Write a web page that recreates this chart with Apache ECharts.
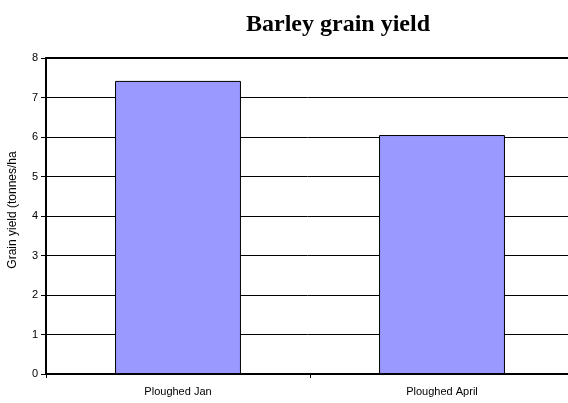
<!DOCTYPE html>
<html><head><meta charset="utf-8">
<script src="https://cdn.jsdelivr.net/npm/echarts@6/dist/echarts.min.js"></script>
<style>html,body{margin:0;padding:0;background:#fff}#c{width:568px;height:403px}</style>
</head><body><div id="c"></div>
<script>
var categories = ['Ploughed Jan', 'Ploughed April'];
var yieldValues = [7.42, 6.05];
var yTicks = [0, 1, 2, 3, 4, 5, 6, 7, 8];

var chart = echarts.init(document.getElementById('c'), null, {renderer: 'canvas'});
chart.setOption({
  animation: false,
  backgroundColor: '#fff',
  title: {
    text: 'Barley grain yield',
    left: 333, top: 8, textAlign: 'center',
    textStyle: {fontFamily: 'Liberation Serif', fontWeight: 'bold', fontSize: 24, color: '#000'}
  },
  grid: {left: 46, top: 58, right: -6, bottom: 29, containLabel: false, outerBoundsMode: 'none'},
  xAxis: [{
    type: 'category', data: categories, position: 'bottom',
    axisLine: {lineStyle: {color: '#000', width: 2}},
    axisTick: {show: true, length: 4, lineStyle: {color: '#000', width: 1}},
    axisLabel: {fontFamily: 'Liberation Sans', fontSize: 11, color: '#000', margin: 12},
    splitLine: {show: false}
  }, {
    type: 'category', data: categories, position: 'top',
    axisLine: {show: true, lineStyle: {color: '#000', width: 2}},
    axisTick: {show: false}, axisLabel: {show: false}
  }],
  yAxis: {
    type: 'value', min: yTicks[0], max: yTicks[yTicks.length - 1], interval: 1,
    name: 'Grain yield (tonnes/ha', nameLocation: 'middle', nameGap: 27,
    nameTextStyle: {fontFamily: 'Liberation Sans', fontSize: 12, color: '#000', padding: [0, 0, 0, 12]},
    axisLine: {show: true, lineStyle: {color: '#000', width: 2}},
    axisTick: {show: true, length: 5, lineStyle: {color: '#000', width: 1}},
    axisLabel: {fontFamily: 'Liberation Sans', fontSize: 11, color: '#000', margin: 8},
    splitLine: {show: true, lineStyle: {color: '#000', width: 1}}
  },
  series: [{
    type: 'bar', data: yieldValues, barWidth: '47.7%', xAxisIndex: 0,
    itemStyle: {color: '#9999FF', borderColor: '#000', borderWidth: 1}
  }]
});
</script></body></html>
